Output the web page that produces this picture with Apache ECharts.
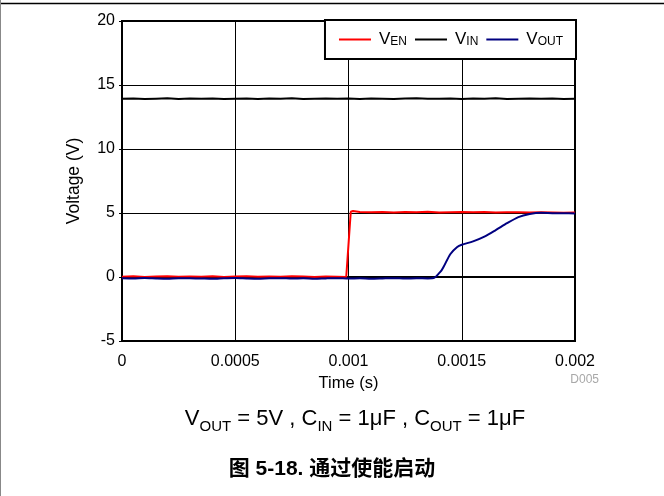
<!DOCTYPE html>
<html>
<head>
<meta charset="utf-8">
<script src="https://cdn.jsdelivr.net/npm/echarts@6/dist/echarts.min.js"></script>
<style>
  html, body { margin: 0; padding: 0; background: #fff; }
  #chart { width: 664px; height: 496px; }
</style>
</head>
<body>
<div id="chart"></div>
<script>
// Time samples (s) and measured voltages (V)
const tIN = [0,0.00005,0.0001,0.00015,0.0002,0.00025,0.0003,0.00035,0.0004,0.00045,0.0005,0.00055,0.0006,0.00065,0.0007,0.00075,0.0008,0.00085,0.0009,0.00095,0.001,0.00105,0.0011,0.00115,0.0012,0.00125,0.0013,0.00135,0.0014,0.00145,0.0015,0.00155,0.0016,0.00165,0.0017,0.00175,0.0018,0.00185,0.0019,0.00195,0.002];
const vIN = [13.92,13.95,13.9,13.93,13.96,13.91,13.94,13.92,13.95,13.9,13.93,13.95,13.91,13.94,13.92,13.96,13.9,13.93,13.95,13.92,13.94,13.91,13.95,13.93,13.9,13.94,13.96,13.92,13.93,13.95,13.9,13.94,13.92,13.97,13.91,13.93,13.95,13.92,13.94,13.9,13.93];

const tEN = [0,0.00005,0.0001,0.00015,0.0002,0.00025,0.0003,0.00035,0.0004,0.00045,0.0005,0.00055,0.0006,0.00065,0.0007,0.00075,0.0008,0.00085,0.0009,0.00095,0.00099,0.000993,0.00101,0.00102,0.00105,0.0011,0.00115,0.0012,0.00125,0.0013,0.00135,0.0014,0.00145,0.0015,0.00155,0.0016,0.00165,0.0017,0.00175,0.0018,0.00185,0.0019,0.00195,0.002];
const vEN = [0.02,0.05,0.0,0.03,0.06,0.01,0.04,0.02,0.05,0.0,0.03,0.06,0.02,0.04,0.01,0.05,0.03,0.0,0.04,0.02,0.0,-0.1,5.1,5.15,5.08,5.05,5.08,5.04,5.07,5.05,5.09,5.04,5.06,5.08,5.05,5.07,5.04,5.06,5.05,5.03,5.05,5.04,5.02,5.03];

const tOUT = [0,0.00005,0.0001,0.00015,0.0002,0.00025,0.0003,0.00035,0.0004,0.00045,0.0005,0.00055,0.0006,0.00065,0.0007,0.00075,0.0008,0.00085,0.0009,0.00095,0.001,0.00105,0.0011,0.00115,0.0012,0.00125,0.0013,0.00135,0.00138,0.0014,0.00141,0.00142,0.00145,0.00148,0.0015,0.00155,0.0016,0.00165,0.0017,0.00175,0.0018,0.00185,0.0019,0.00195,0.002];
const vOUT = [-0.1,-0.12,-0.08,-0.11,-0.13,-0.09,-0.1,-0.12,-0.14,-0.1,-0.08,-0.11,-0.13,-0.1,-0.09,-0.12,-0.1,-0.14,-0.11,-0.09,-0.12,-0.1,-0.13,-0.11,-0.09,-0.12,-0.1,-0.11,-0.05,0.3,0.5,0.8,1.8,2.35,2.52,2.78,3.15,3.66,4.2,4.68,4.92,5.02,4.99,4.98,4.97];

const xTickLabels = ['0', '0.0005', '0.001', '0.0015', '0.002'];
const yTickLabels = ['-5', '0', '5', '10', '15', '20'];

const FONT = "'Liberation Sans', Arial, Helvetica, sans-serif";
const zip = (t, v) => t.map((x, i) => [x, v[i]]);

const chart = echarts.init(document.getElementById('chart'), null, { renderer: 'canvas' });

const legendRich = {
  v: { fontSize: 17, fontFamily: FONT, color: '#000', padding: [0, 0, 0, 3] },
  s: { fontSize: 12, fontFamily: FONT, color: '#000', verticalAlign: 'bottom' }
};
const legendNames = { 'V_EN': '{v|V}{s|EN}', 'V_IN': '{v|V}{s|IN}', 'V_OUT': '{v|V}{s|OUT}' };

const capRich = {
  v: { fontSize: 22, fontFamily: FONT, fill: '#000', verticalAlign: 'bottom' },
  s: { fontSize: 15, fontFamily: FONT, fill: '#000', verticalAlign: 'bottom', padding: [0, 0, -4, 0] }
};

chart.setOption({
  animation: false,
  backgroundColor: '#fff',
  grid: {
    left: 122, right: 89, top: 21, bottom: 155,
    show: true, borderColor: '#000', borderWidth: 2, backgroundColor: 'transparent'
  },
  legend: {
    right: 88, top: 20,
    orient: 'horizontal',
    selectedMode: false,
    backgroundColor: '#fff',
    borderColor: '#000',
    borderWidth: 2,
    padding: [11, 13, 11, 14],
    itemGap: 8,
    itemWidth: 32,
    itemHeight: 2,
    icon: 'rect',
    data: ['V_EN', 'V_IN', 'V_OUT'],
    formatter: n => legendNames[n],
    textStyle: { fontFamily: FONT, fontSize: 17, color: '#000', rich: legendRich }
  },
  xAxis: {
    type: 'value', min: 0, max: 0.002, interval: 0.0005,
    name: 'Time (s)', nameLocation: 'middle', nameGap: 29,
    nameTextStyle: { fontFamily: FONT, fontSize: 16.5, color: '#000' },
    axisLine: { show: true, lineStyle: { color: '#000', width: 2 } },
    axisTick: { show: false },
    axisLabel: {
      fontFamily: FONT, fontSize: 16, color: '#000', margin: 13,
      formatter: (val) => xTickLabels[Math.round(val / 0.0005)]
    },
    splitLine: { show: true, lineStyle: { color: '#000', width: 1 } }
  },
  yAxis: {
    type: 'value', min: -5, max: 20, interval: 5,
    name: 'Voltage (V)', nameLocation: 'middle', nameGap: 39,
    nameTextStyle: { fontFamily: FONT, fontSize: 17.5, color: '#000' },
    axisLine: { show: true, lineStyle: { color: '#000', width: 2 } },
    axisTick: { show: true, inside: false, length: 3, lineStyle: { color: '#000', width: 1 } },
    axisLabel: {
      fontFamily: FONT, fontSize: 16, color: '#000', margin: 7,
      formatter: (val) => yTickLabels[Math.round((val + 5) / 5)]
    },
    splitLine: { show: true, lineStyle: { color: '#000', width: 1 } }
  },
  series: [
    { name: 'V_EN', type: 'line', data: zip(tEN, vEN), showSymbol: false,
      lineStyle: { color: '#ff0000', width: 2 }, itemStyle: { color: '#ff0000' }, z: 3 },
    { name: 'V_IN', type: 'line', data: zip(tIN, vIN), showSymbol: false,
      lineStyle: { color: '#000000', width: 2 }, itemStyle: { color: '#000000' }, z: 4 },
    { name: 'V_OUT', type: 'line', data: zip(tOUT, vOUT), showSymbol: false, smooth: 0.25,
      lineStyle: { color: '#000080', width: 2 }, itemStyle: { color: '#000080' }, z: 5 }
  ],
  graphic: [
    { type: 'line', shape: { x1: 0, y1: 3.5, x2: 664, y2: 3.5 }, style: { stroke: '#000', lineWidth: 1.5 }, silent: true },
    { type: 'line', shape: { x1: 0.5, y1: 0, x2: 0.5, y2: 496 }, style: { stroke: '#888', lineWidth: 1 }, silent: true },
    { type: 'text', x: 599, y: 380, silent: true,
      style: { text: 'D005', fill: '#a8a8a8', font: "12px " + FONT, textAlign: 'right', textVerticalAlign: 'middle' } },
    { type: 'text', x: 355, y: 419, silent: true,
      style: {
        text: '{v|V}{s|OUT}{v| = 5V , C}{s|IN}{v| = 1μF , C}{s|OUT}{v| = 1μF}',
        rich: capRich, textAlign: 'center', textVerticalAlign: 'middle', fill: '#000'
      } },
    { type: 'text', x: 332, y: 469, silent: true,
      style: { text: '图 5-18. 通过使能启动', fill: '#000',
        font: "bold 21px 'Liberation Sans', 'Noto Sans CJK SC', sans-serif",
        textAlign: 'center', textVerticalAlign: 'middle' } }
  ]
});
</script>
</body>
</html>
